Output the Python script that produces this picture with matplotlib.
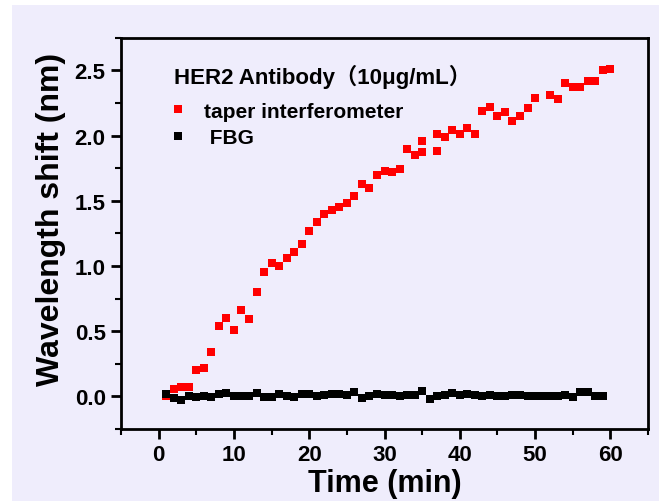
import matplotlib
matplotlib.use("Agg")
import matplotlib.pyplot as plt
from matplotlib.patches import Rectangle
from matplotlib.ticker import MultipleLocator

# taper interferometer (red)
t_taper = [1, 2, 3, 4, 5, 6, 7, 8, 9, 10, 11, 12, 13, 14, 15, 16, 17, 18, 19, 20,
           21, 22, 23, 24, 25, 26, 27, 28, 29, 30, 31, 32, 33, 34, 35, 35, 37, 37,
           38, 39, 40, 41, 42, 43, 44, 45, 46, 47, 48, 49, 50, 52, 53, 54, 55, 56,
           57, 58, 59, 60]
shift_taper = [0.00, 0.06, 0.07, 0.07, 0.20, 0.22, 0.34, 0.54, 0.60, 0.51, 0.66, 0.59,
               0.80, 0.95, 1.02, 1.00, 1.06, 1.11, 1.17, 1.27, 1.34, 1.40, 1.43, 1.45,
               1.485, 1.535, 1.625, 1.60, 1.70, 1.73, 1.72, 1.74, 1.90, 1.85, 1.87, 1.96,
               1.88, 2.01, 1.99, 2.04, 2.01, 2.06, 2.01, 2.19, 2.22, 2.15, 2.18, 2.115,
               2.15, 2.21, 2.29, 2.31, 2.28, 2.40, 2.37, 2.37, 2.42, 2.42, 2.50, 2.51]

# FBG (black)
t_fbg = list(range(1, 60))
shift_fbg = [0.02, -0.01, -0.03, 0.005, -0.005, 0.005, -0.005, 0.02, 0.025, 0.0,
             0.005, 0.005, 0.025, -0.005, -0.005, 0.02, 0.005, -0.005, 0.015, 0.015,
             0.005, 0.01, 0.02, 0.02, 0.01, 0.03, -0.01, 0.0, 0.015, 0.01,
             0.01, 0.005, 0.01, 0.01, 0.04, -0.02, 0.0, 0.01, 0.025, 0.01,
             0.02, 0.01, 0.0, 0.01, 0.0, 0.005, 0.01, 0.01, 0.005, 0.005,
             0.0, 0.0, 0.0, 0.01, -0.005, 0.03, 0.03, 0.0, 0.0]

legend_title = "HER2 Antibody\uff0810\u03bcg/mL\uff09"
labels = ["taper interferometer", " FBG"]

plt.rcParams["font.family"] = ["Liberation Sans", "Noto Sans CJK SC", "DejaVu Sans"]
plt.rcParams["font.weight"] = "bold"

bg = "#EFEDFC"
fig = plt.figure(figsize=(6.59, 5.02), dpi=100, facecolor="white")
fig.patches.append(Rectangle((12 / 659, 0), 1, 1 - 6 / 502, transform=fig.transFigure,
                             facecolor=bg, edgecolor="none", zorder=-10))
ax = fig.add_axes([121 / 659, 1 - 430 / 502, 527 / 659, 391.3 / 502])
ax.set_facecolor(bg)

ax.plot(t_taper, shift_taper, "s", color="#FF0000", ms=6, mew=0, label=labels[0])
ax.plot(t_fbg, shift_fbg, "s", color="black", ms=6, mew=0, label=labels[1])

ax.set_xlim(-5, 65)
ax.set_ylim(-0.25, 2.75)
ax.xaxis.set_major_locator(MultipleLocator(10))
ax.xaxis.set_minor_locator(MultipleLocator(5))
ax.yaxis.set_major_locator(MultipleLocator(0.5))
ax.yaxis.set_minor_locator(MultipleLocator(0.25))
ax.yaxis.set_major_formatter(plt.FormatStrFormatter("%.1f"))

for s in ax.spines.values():
    s.set_linewidth(2)
ax.tick_params(which="major", direction="out", length=7, width=2, labelsize=16, pad=4)
ax.tick_params(which="minor", direction="out", length=4, width=1.5)
for lab in ax.get_xticklabels() + ax.get_yticklabels():
    lab.set_fontweight("bold")

ax.set_xlabel("Time (min)", fontsize=22, fontweight="bold", labelpad=2)
ax.set_ylabel("Wavelength shift (nm)", fontsize=23, fontweight="bold")
ax.yaxis.set_label_coords(-0.104, 0.537)

leg = ax.legend(title=legend_title, loc="upper left", bbox_to_anchor=(0.101, 0.932),
                frameon=False, fontsize=15, title_fontsize=16, handlelength=0.4,
                handletextpad=1.05, labelspacing=0.35, borderaxespad=0,
                borderpad=0, markerscale=1.05)
leg._legend_box.align = "left"
leg._legend_box.sep = 9.5
leg.get_title().set_fontweight("bold")
for txt in leg.get_texts():
    txt.set_fontweight("bold")

fig.savefig("out.png", dpi=100, facecolor=fig.get_facecolor())
